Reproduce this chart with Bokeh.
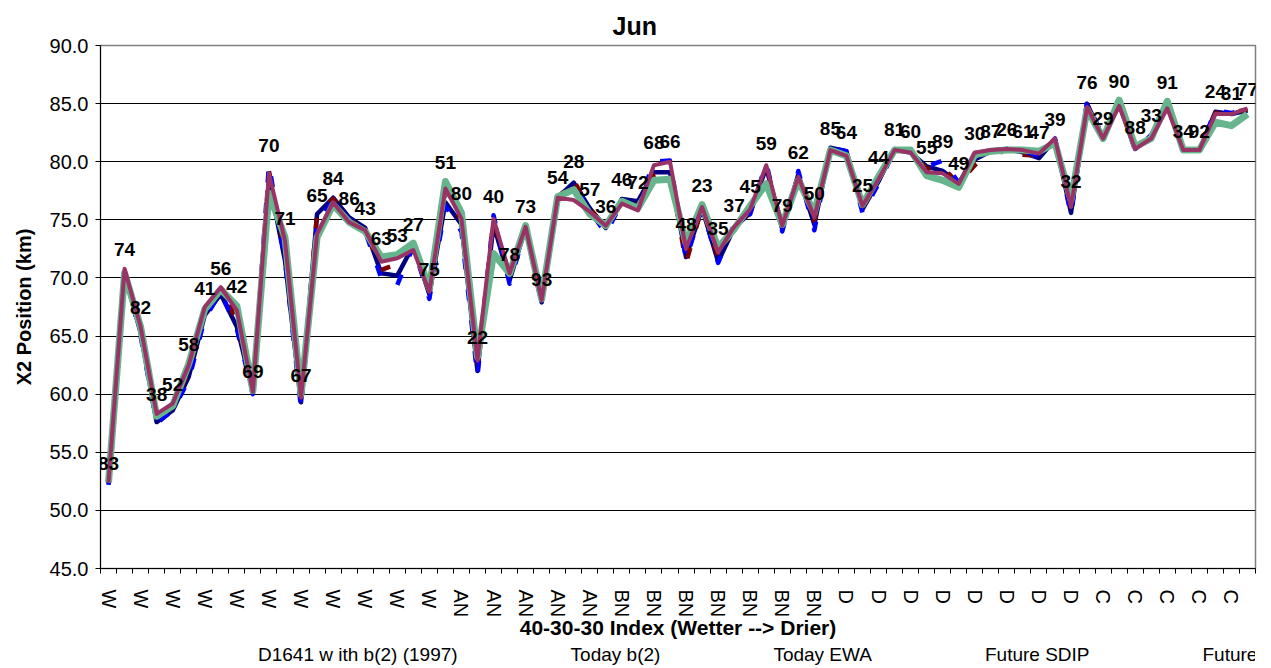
from bokeh.plotting import figure
from bokeh.layouts import column
from bokeh.models import (Range1d, FixedTicker, NumeralTickFormatter, Legend,
                          LegendItem, ColumnDataSource)
from bokeh.core.properties import value
from bokeh.embed import file_html
from bokeh.resources import INLINE

# ---------------- data ----------------
years = ["83", "74", "82", "38", "52", "58", "41", "56", "42", "69",
         "70", "71", "67", "65", "84", "86", "43", "63", "53", "27",
         "75", "51", "80", "22", "40", "78", "73", "93", "54", "28",
         "57", "36", "46", "72", "68", "66", "48", "23", "35", "37",
         "45", "59", "79", "62", "50", "85", "64", "25", "44", "81",
         "60", "55", "89", "49", "30", "87", "26", "61", "47", "39",
         "32", "76", "29", "90", "88", "33", "91", "34", "92", "24",
         "31", "77"]

water_year_type = (["W"] * 21 + ["AN"] * 10 + ["BN"] * 14 +
                   ["D"] * 16 + ["C"] * 11)

d1641 = [52.3, 70.4, 65.3, 57.6, 58.6, 61.5, 66.8, 68.6, 65.8, 60.2,
         78.5, 71.5, 59.3, 75.5, 76.9, 75.2, 74.3, 70.4, 70.2, 72.8,
         68.6, 76.5, 74.6, 62.0, 74.6, 69.8, 74.3, 67.9, 76.9, 78.2,
         76.0, 74.3, 76.8, 76.6, 79.1, 79.1, 71.8, 76.0, 71.4, 74.3,
         75.6, 79.5, 74.2, 78.9, 74.6, 81.2, 80.9, 75.9, 78.3, 81.1,
         80.8, 79.6, 79.2, 78.2, 80.2, 80.9, 81.1, 80.8, 80.3, 81.9,
         75.6, 85.0, 82.0, 85.0, 81.1, 82.2, 85.0, 81.0, 81.0, 84.3,
         84.1, 84.4]

today_b2 = [52.4, 70.6, 65.6, 58.0, 58.9, 62.0, 67.2, 69.0, 66.4, 60.3,
            79.2, 72.2, 59.5, 75.5, 76.8, 75.0, 74.2, 70.7, 71.2, 72.6,
            68.7, 77.4, 74.9, 62.4, 75.0, 70.2, 74.4, 68.0, 76.9, 78.4,
            75.9, 74.4, 76.6, 76.2, 78.8, 79.2, 71.3, 76.1, 71.8, 74.4,
            75.7, 79.6, 74.4, 78.8, 74.9, 81.1, 80.7, 76.0, 78.4, 81.0,
            80.8, 79.4, 79.5, 78.1, 79.7, 80.9, 80.8, 80.6, 80.5, 81.9,
            75.9, 84.8, 82.0, 84.9, 81.1, 82.1, 85.2, 81.0, 81.0, 84.2,
            84.2, 84.5]

today_ewa = [52.2, 70.5, 65.0, 57.5, 58.6, 61.2, 66.5, 68.8, 65.6, 60.0,
             79.8, 71.5, 58.8, 74.8, 76.6, 75.0, 74.0, 70.0, 69.4, 72.7,
             68.2, 76.2, 74.0, 61.5, 75.4, 69.5, 74.2, 67.8, 76.8, 78.0,
             75.8, 73.8, 76.5, 76.2, 80.0, 80.1, 71.6, 76.0, 71.3, 74.6,
             75.5, 79.9, 74.0, 79.2, 74.1, 81.2, 80.9, 75.6, 78.1, 81.0,
             80.8, 79.6, 80.1, 78.2, 80.4, 81.0, 81.1, 80.9, 80.5, 82.0,
             75.4, 85.2, 82.1, 85.0, 81.0, 82.3, 84.9, 81.0, 81.0, 84.4,
             84.2, 84.5]

future_sdip = [52.4, 70.4, 65.8, 58.1, 59.0, 62.6, 67.3, 69.0, 67.6, 60.3,
               77.3, 73.5, 60.0, 73.5, 76.3, 74.8, 74.0, 71.8, 72.0, 73.0,
               69.1, 78.3, 75.6, 63.2, 72.1, 70.4, 74.5, 68.2, 77.0, 77.6,
               75.5, 74.5, 76.6, 76.0, 78.4, 78.5, 73.0, 76.3, 72.6, 74.2,
               76.2, 78.1, 74.6, 78.4, 75.6, 81.0, 80.5, 76.3, 78.7, 81.0,
               81.0, 78.8, 78.4, 77.8, 80.6, 80.9, 81.0, 81.0, 80.9, 81.6,
               76.7, 84.5, 82.0, 85.3, 81.3, 82.0, 85.2, 81.0, 81.0, 83.4,
               83.1, 84.1]

future_ewa = [52.4, 70.8, 65.8, 58.3, 59.2, 62.5, 67.5, 69.2, 67.2, 60.2,
              79.0, 73.2, 59.7, 73.8, 76.5, 74.8, 74.1, 71.4, 71.7, 72.4,
              68.8, 77.7, 75.1, 62.9, 75.1, 70.4, 74.4, 68.1, 76.9, 76.7,
              75.7, 74.5, 76.4, 75.8, 79.7, 80.0, 72.5, 76.1, 72.2, 74.4,
              75.9, 79.7, 74.5, 78.7, 75.2, 81.0, 80.5, 76.2, 78.5, 81.0,
              80.8, 79.1, 79.0, 78.1, 80.8, 81.0, 81.1, 81.0, 80.7, 82.0,
              76.1, 84.7, 82.0, 84.8, 81.1, 82.0, 84.6, 81.0, 81.0, 84.1,
              84.1, 84.6]

y_ticks = [45, 50, 55, 60, 65, 70, 75, 80, 85, 90]

# ---------------- main figure ----------------
FONT = "Liberation Sans"
n = len(years)
x = list(range(n))

p = figure(width=1263, height=644, output_backend="svg", toolbar_location=None,
           x_range=Range1d(-0.5, n - 0.5), y_range=Range1d(45, 90),
           min_border_left=100, min_border_right=8, min_border_top=45,
           min_border_bottom=76)
p.background_fill_color = "white"
p.border_fill_color = "white"
p.outline_line_color = "#808080"
p.outline_line_width = 1.5

# title
p.title.text = "Jun"
p.title.text_font = FONT
p.title.text_font_size = "25px"
p.title.text_font_style = "bold"
p.title.text_color = "black"
p.title.align = "left"
p.title.offset = 512
p.title.standoff = 12

# x axis
xa = p.xaxis[0]
xa.ticker = FixedTicker(ticks=[i for i in x if i % 2 == 0],
                        minor_ticks=[i - 0.5 for i in range(n + 1)])
xa.major_label_overrides = {i: water_year_type[i] for i in x if i % 2 == 0}
xa.major_label_orientation = "vertical"
xa.major_label_text_font = FONT
xa.major_label_text_font_size = "20px"
xa.major_label_text_color = "black"
xa.major_label_standoff = 16
xa.major_tick_out = 0
xa.major_tick_in = 0
xa.minor_tick_out = 5
xa.minor_tick_in = 0
xa.minor_tick_line_color = "black"
xa.axis_line_color = "black"
xa.axis_label = "40-30-30 Index (Wetter --> Drier)"
xa.axis_label_text_font = FONT
xa.axis_label_text_font_size = "21px"
xa.axis_label_text_font_style = "bold"
xa.axis_label_text_color = "black"
xa.axis_label_standoff = -4

# y axis
ya = p.yaxis[0]
ya.ticker = FixedTicker(ticks=y_ticks)
ya.formatter = NumeralTickFormatter(format="0.0")
ya.major_label_text_font = FONT
ya.major_label_text_font_size = "20px"
ya.major_label_text_color = "black"
ya.major_tick_out = 5
ya.major_tick_in = 0
ya.minor_tick_line_color = None
ya.major_label_standoff = 7
ya.axis_line_color = "black"
ya.axis_label = "X2 Position (km)"
ya.axis_label_text_font = FONT
ya.axis_label_text_font_size = "20px"
ya.axis_label_text_font_style = "bold"
ya.axis_label_text_color = "black"
ya.axis_label_standoff = 12

p.xgrid.grid_line_color = None
p.ygrid.ticker = FixedTicker(ticks=y_ticks)
p.ygrid.grid_line_color = "black"
p.ygrid.grid_line_width = 1

# ---------------- series ----------------
series = [
    ("D1641 w ith b(2) (1997)", d1641, dict(line_color="#000080", line_width=4.5)),
    ("Today b(2)", today_b2, dict(line_color="#800000", line_width=4.5, line_dash="11 20")),
    ("Today EWA", today_ewa, dict(line_color="#0000FF", line_width=4.5, line_dash="11 20")),
    ("Future SDIP", future_sdip, dict(line_color="#66B58C", line_width=7)),
    ("Future EWA", future_ewa, dict(line_color="#993366", line_width=4)),
]

for name, vals, style in series:
    p.line(x, vals, line_join="round", **style)

# year labels above the points
top = [max(v) for v in zip(d1641, today_b2, today_ewa, future_sdip, future_ewa)]
src = ColumnDataSource(dict(x=x, y=top, t=years))
p.text(x="x", y="y", text="t", source=src, text_font=value(FONT),
       text_font_style="bold", text_font_size="19px", text_align="center",
       text_baseline="middle", y_offset=-19, text_color="black")

# ---------------- legend strip ----------------
leg = figure(width=1263, height=24, output_backend="svg", toolbar_location=None,
             x_axis_type=None, y_axis_type=None, min_border=0,
             x_range=Range1d(0, 1), y_range=Range1d(0, 1))
leg.outline_line_color = None
leg.background_fill_color = "white"
leg.border_fill_color = "white"
leg.grid.visible = False

items = []
for name, vals, style in series:
    r = leg.line([], [], **style)
    items.append(LegendItem(label=name, renderers=[r]))

legend = Legend(items=items, orientation="horizontal", location=(85, 2))
legend.border_line_color = None
legend.background_fill_alpha = 0
legend.padding = 0
legend.margin = 0
legend.spacing = 40
legend.glyph_width = 68
legend.glyph_height = 18
legend.label_height = 18
legend.label_standoff = 5
legend.label_text_font = FONT
legend.label_text_font_size = "19px"
legend.label_text_color = "black"
leg.add_layout(legend, "center")

layout = column(p, leg, spacing=0)
open("out.html", "w").write(file_html(layout, INLINE))
